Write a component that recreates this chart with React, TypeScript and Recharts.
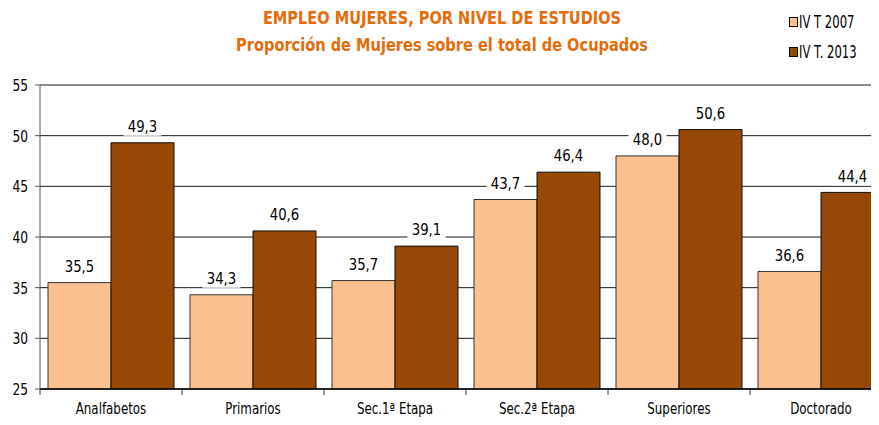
import { BarChart, Bar, XAxis, YAxis, CartesianGrid, LabelList } from 'recharts'

const categories = ['Analfabetos', 'Primarios', 'Sec.1ª Etapa', 'Sec.2ª Etapa', 'Superiores', 'Doctorado']
const serie2007 = [35.5, 34.3, 35.7, 43.7, 48.0, 36.6]
const serie2013 = [49.3, 40.6, 39.1, 46.4, 50.6, 44.4]
const yTicks = [25, 30, 35, 40, 45, 50, 55]

const seriesNames = ['IV T 2007', 'IV T. 2013']
const colors = ['#FAC090', '#974706']

const FONT = '"DejaVu Sans Condensed", "DejaVu Sans", sans-serif'

const chartData = categories.map((name, i) => ({
  name,
  v2007: serie2007[i],
  v2013: serie2013[i],
}))

const fmt = (v: number) => v.toFixed(1).replace('.', ',')

// value label with white box behind it (hides the gridline)
function ValueLabel(props: any) {
  const { x, y, width, value } = props
  const cx = x + width / 2
  const cy = y - 16
  return (
    <g>
      <rect x={cx - 19} y={cy - 9} width={38} height={18} fill="#fff" />
      <text
        transform={`translate(${cx},${cy}) scale(0.92,1)`}
        textAnchor="middle"
        dominantBaseline="central"
        fontSize={16}
        fontFamily={FONT}
        fill="#000"
      >
        {fmt(value)}
      </text>
    </g>
  )
}

// category label in the middle, tick marks on the band edges
function CategoryTick(props: any) {
  const { x, y, payload, index } = props
  const half = payload.offset || 0
  return (
    <g>
      <line x1={x - half} x2={x - half} y1={y - 8} y2={y - 2} stroke="#333" />
      {index === categories.length - 1 && (
        <line x1={x + half} x2={x + half} y1={y - 8} y2={y - 2} stroke="#333" />
      )}
      <text
        transform={`translate(${x},${y + 17}) scale(0.88,1)`}
        textAnchor="middle"
        fontSize={15}
        fontFamily={FONT}
        fill="#000"
      >
        {payload.value}
      </text>
    </g>
  )
}

function ValueTick(props: any) {
  const { x, y, payload } = props
  return (
    <text
      transform={`translate(${x},${y}) scale(0.85,1)`}
      textAnchor="end"
      dominantBaseline="central"
      fontSize={16}
      fontFamily={FONT}
      fill="#000"
    >
      {payload.value}
    </text>
  )
}

export default function App() {
  return (
    <div style={{ position: 'relative', width: 879, height: 425, overflow: 'hidden', margin: -8, background: '#fff' }}>
      <div
        style={{
          position: 'absolute',
          left: 0,
          width: 884,
          top: 4,
          textAlign: 'center',
          color: '#E46C0A',
          fontFamily: FONT,
          fontWeight: 'bold',
          fontSize: 18,
          lineHeight: '27px',
          transform: 'scaleX(0.9)',
          transformOrigin: '442px 0',
        }}
      >
        <div>EMPLEO MUJERES, POR NIVEL DE ESTUDIOS</div>
        <div>Proporción de Mujeres sobre el total de Ocupados</div>
      </div>
      <div
        style={{
          position: 'absolute',
          left: 789,
          top: 7,
          fontFamily: FONT,
          fontSize: 17,
          lineHeight: '30px',
        }}
      >
        {seriesNames.map((s, i) => (
          <div key={s} style={{ display: 'flex', alignItems: 'center' }}>
            <span style={{ display: 'inline-block', width: 7, height: 8, background: colors[i], border: '1px solid #000', marginRight: 1 }} />
            <span style={{ display: 'inline-block', transform: 'scaleX(0.76)', transformOrigin: '0 50%' }}>{s}</span>
          </div>
        ))}
      </div>
      <BarChart
        width={900}
        height={425}
        data={chartData}
        margin={{ top: 85, right: 8, bottom: 0, left: 0 }}
        barCategoryGap={8}
        barGap={0}
      >
        <CartesianGrid vertical={false} stroke="#1a1a1a" strokeWidth={1} />
        <XAxis
          dataKey="name"
          height={36}
          tickLine={false}
          axisLine={{ stroke: '#000', strokeWidth: 1.5 }}
          tick={<CategoryTick />}
          interval={0}
        />
        <YAxis
          width={40}
          domain={[25, 55]}
          ticks={yTicks}
          allowDataOverflow
          tickSize={5}
          tickMargin={7}
          axisLine={{ stroke: '#555' }}
          tickLine={{ stroke: '#555' }}
          tick={<ValueTick />}
        />
        <Bar dataKey="v2007" fill={colors[0]} stroke="#333" strokeWidth={1} isAnimationActive={false}>
          <LabelList dataKey="v2007" content={<ValueLabel />} />
        </Bar>
        <Bar dataKey="v2013" fill={colors[1]} stroke="#111" strokeWidth={1} isAnimationActive={false}>
          <LabelList dataKey="v2013" content={<ValueLabel />} />
        </Bar>
      </BarChart>
    </div>
  )
}
